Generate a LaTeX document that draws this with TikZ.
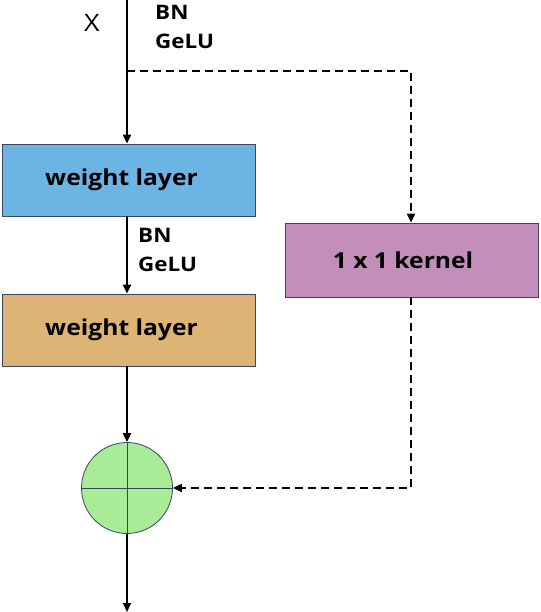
\documentclass[tikz,border=0pt]{standalone}
\usepackage{fontspec}
\setmainfont{Open Sans}
\newfontfamily\widefont[FakeStretch=1.12]{Open Sans}
\usetikzlibrary{arrows.meta}
\definecolor{bluebox}{RGB}{108,180,228}
\definecolor{tanbox}{RGB}{222,180,118}
\definecolor{purplebox}{RGB}{196,142,186}
\definecolor{greencirc}{RGB}{168,236,152}
\definecolor{edge}{RGB}{60,70,90}
\tikzset{
  layerbox/.style={draw=edge, line width=0.8pt, minimum width=253pt, minimum height=72pt, inner sep=0pt, font=\widefont\fontsize{22}{26}\selectfont\bfseries},
  arr/.style={line width=2pt, -{Triangle[length=9pt,width=8pt]}},
  darr/.style={line width=2pt, dash pattern=on 8pt off 5pt, -{Triangle[length=9pt,width=8pt]}},
  lbl/.style={font=\widefont\fontsize{20}{29}\selectfont\bfseries, align=left, anchor=north west, inner sep=0pt},
}
\begin{document}
\begin{tikzpicture}[x=1pt,y=-1pt]
\useasboundingbox (0,0) rectangle (540,612);
\node[layerbox, fill=bluebox] (w1) at (128.5,180) {\hspace*{-14pt}weight layer};
\node[layerbox, fill=tanbox] (w2) at (128.5,330) {\hspace*{-14pt}weight layer};
\node[layerbox, fill=purplebox, minimum width=253pt, minimum height=74pt] (k) at (412,260) {\hspace*{-18pt}1 x 1 kernel};
\node[circle, draw=edge, line width=0.8pt, fill=greencirc, minimum size=91pt, inner sep=0pt] (add) at (127,488) {};
\draw[edge, line width=0.8pt] (add.north) -- (add.south) (add.west) -- (add.east);
\coordinate (top) at (127,0);
\coordinate (split) at (127,71);
\coordinate (corner1) at (411,71);
\coordinate (corner2) at (411,488);
\coordinate (out) at (127,612);
\node[font=\widefont\fontsize{24}{26}\selectfont, inner sep=0pt] (x) at (92,23) {X};
\node[lbl] (bn1) at (155,5) {BN\\GeLU};
\node[lbl] (bn2) at (138,228) {BN\\GeLU};
\draw[arr] (top) -- (w1.north -| top);
\draw[arr] (w1.south -| top) -- (w2.north -| top);
\draw[arr] (w2.south -| top) -- (add.north);
\draw[arr] (add.south) -- (out);
\draw[darr] (split) -- (corner1) -- (k.north -| corner1);
\draw[darr] (k.south -| corner1) -- (corner2) -- (add.east);
\end{tikzpicture}
\end{document}
